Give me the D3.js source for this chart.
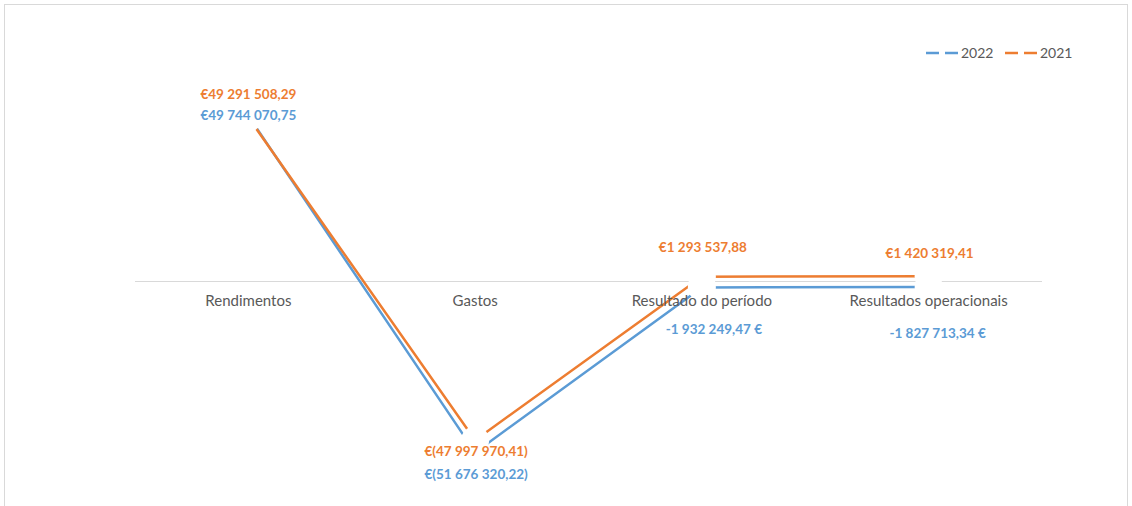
<!DOCTYPE html>
<html>
<head>
<meta charset="utf-8">
<script src="https://cdn.jsdelivr.net/npm/d3@7"></script>
<style>
  body { margin: 0; background: #fff; }
  text { font-family: Lato, "Open Sans", sans-serif; }
</style>
</head>
<body>
<div id="chart"></div>
<script>
// categories and series values
const categories = ["Rendimentos", "Gastos", "Resultado do período", "Resultados operacionais"];
const seriesNames = ["2022", "2021"];
const values2022 = [49744070.75, -51676320.22, -1932249.47, -1827713.34];
const values2021 = [49291508.29, -47997970.41, 1293537.88, 1420319.41];
const labels2022 = ["€49 744 070,75", "€(51 676 320,22)", "-1 932 249,47 €", "-1 827 713,34 €"];
const labels2021 = ["€49 291 508,29", "€(47 997 970,41)", "€1 293 537,88", "€1 420 319,41"];

// label placement (pixel offsets from the point, set by hand like in the original)
const offs2022 = [[0, 1], [1, 23], [12, 43], [9, 47]];
const offs2021 = [[0, -22], [1, 12], [1, -28], [1, -22]];

const width = 1132;
const height = 506;
const margin = {left: 135, right: 90, top: 82, bottom: 26};

const colors = {"2022": "#5B9BD5", "2021": "#ED7D31"};

const svg = d3.select("#chart")
  .append("svg")
  .attr("width", width)
  .attr("height", height);

// chart border
svg.append("rect")
  .attr("x", 4.5).attr("y", 4.5)
  .attr("width", 1123).attr("height", 520)
  .attr("fill", "#fff")
  .attr("stroke", "#d9d9d9");

let xScale = d3.scaleBand()
  .domain(categories)
  .range([margin.left, width - margin.right]);

let yScale = d3.scaleLinear()
  .domain([-60000000, 60000000])
  .range([height - margin.bottom, margin.top]);

const cx = d => xScale(d) + xScale.bandwidth() / 2;

// zero axis
svg.append("line")
  .attr("x1", margin.left).attr("x2", width - margin.right)
  .attr("y1", yScale(0) + 0.5).attr("y2", yScale(0) + 0.5)
  .attr("stroke", "#d9d9d9");

const series = [
  {name: "2022", vals: values2022, labels: labels2022, offs: offs2022},
  {name: "2021", vals: values2021, labels: labels2021, offs: offs2021}
];

const line = d3.line()
  .x((d, i) => cx(categories[i]))
  .y(d => yScale(d));

// lines
series.forEach(s => {
  svg.append("path")
    .datum(s.vals)
    .attr("d", line)
    .attr("fill", "none")
    .attr("stroke", colors[s.name])
    .attr("stroke-width", 2.5)
    .attr("stroke-linejoin", "round");
});

// white markers hide the line ends
series.forEach(s => {
  svg.selectAll(".m" + s.name)
    .data(s.vals)
    .enter()
    .append("circle")
    .attr("cx", (d, i) => cx(categories[i]))
    .attr("cy", d => yScale(d))
    .attr("r", 14)
    .attr("fill", "#fff");
});

// category labels
svg.selectAll(".cat")
  .data(categories)
  .enter()
  .append("text")
  .attr("class", "cat")
  .attr("x", d => cx(d))
  .attr("y", yScale(0) + 25)
  .attr("text-anchor", "middle")
  .attr("font-size", "15px")
  .attr("fill", "#595959")
  .text(d => d);

// data labels
series.forEach(s => {
  svg.selectAll(".l" + s.name)
    .data(s.vals)
    .enter()
    .append("text")
    .attr("x", (d, i) => cx(categories[i]) + s.offs[i][0])
    .attr("y", (d, i) => yScale(d) + s.offs[i][1])
    .attr("text-anchor", "middle")
    .attr("dominant-baseline", "middle")
    .attr("font-size", "13.5px")
    .attr("font-weight", "bold")
    .attr("fill", colors[s.name])
    .text((d, i) => s.labels[i]);
});

// legend
const legend = svg.selectAll(".leg")
  .data(seriesNames)
  .enter()
  .append("g")
  .attr("transform", (d, i) => `translate(${926 + i * 79}, 53)`);

legend.append("line")
  .attr("x1", 0).attr("x2", 32)
  .attr("stroke", d => colors[d])
  .attr("stroke-width", 2.5);

legend.append("rect")
  .attr("x", 13).attr("y", -3).attr("width", 6).attr("height", 6)
  .attr("fill", "#fff");

legend.append("text")
  .attr("x", 35)
  .attr("y", 1)
  .attr("dominant-baseline", "middle")
  .attr("font-size", "14px")
  .attr("fill", "#595959")
  .text(d => d);
</script>
</body>
</html>
